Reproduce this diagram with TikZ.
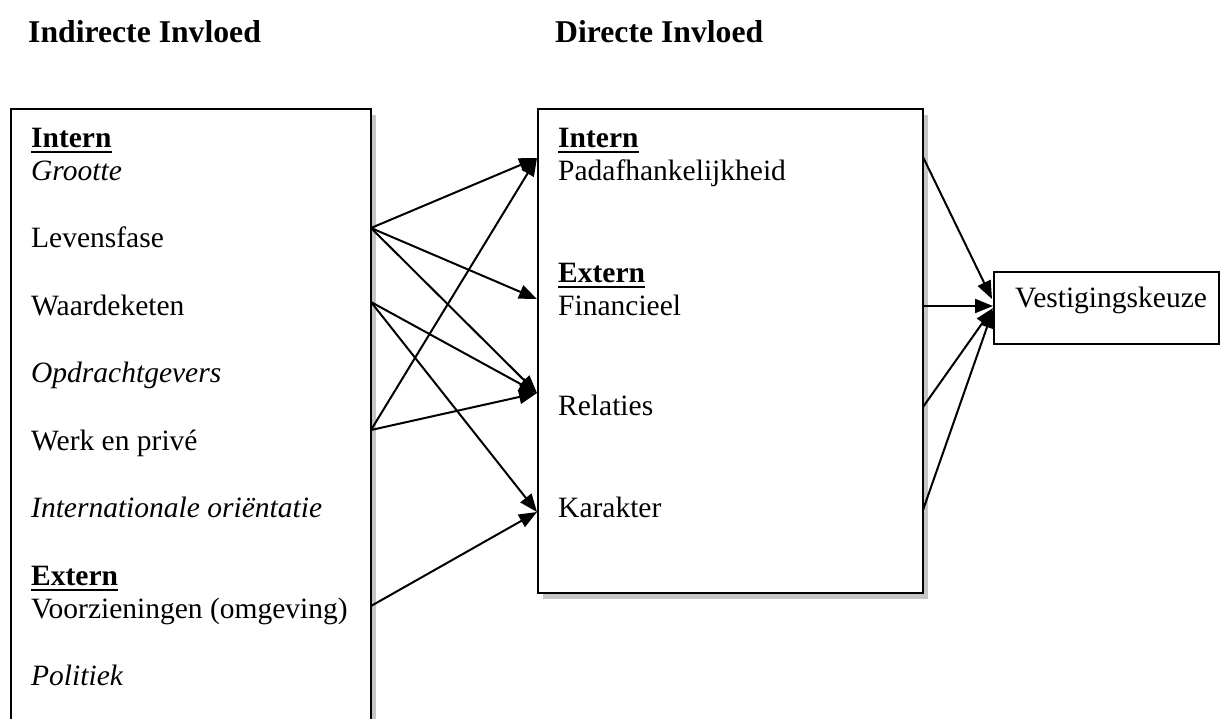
\documentclass[tikz,border=0pt]{standalone}
\usepackage{fontspec}
\setmainfont{Liberation Serif}
\usetikzlibrary{arrows.meta,shadows}
\begin{document}
\begin{tikzpicture}[x=1pt,y=-1pt,
  txt/.style={anchor=base west, inner sep=0pt, font=\fontsize{29.5}{33.6}\selectfont},
  head/.style={anchor=base west, inner sep=0pt, font=\fontsize{31.7}{36}\selectfont\bfseries},
  box/.style={draw, line width=2.3pt, fill=white, anchor=north west, inner sep=0pt},
  shbox/.style={box, drop shadow={shadow xshift=5pt, shadow yshift=-6pt, fill=gray!45, opacity=1}},
  conn/.style={line width=2pt, -{Triangle[length=18pt,width=14pt]}},
  ul/.style={line width=2.8pt}
]
\useasboundingbox (0,0) rectangle (1220,718);
\clip (0,0) rectangle (1220,718);
\fill[white] (0,0) rectangle (1220,718);

% headings
\node[head] (h1) at (28,42) {Indirecte Invloed};
\node[head] (h2) at (555,42) {Directe Invloed};

% boxes
\node[shbox, minimum width=360pt, minimum height=640pt] (L) at (10,108) {};
\node[shbox, minimum width=385pt, minimum height=484pt] (M) at (537,108) {};
\node[box, minimum width=225pt, minimum height=72pt] (R) at (993,271) {};

% left texts
\node[txt] (lint) at (31,147) {\bfseries Intern};
\draw[ul] ([yshift=-5pt]lint.base west) -- ([yshift=-5pt]lint.base east);
\node[txt] (lgro) at (31,180) {\itshape Grootte};
\node[txt] (llev) at (31,247) {Levensfase};
\node[txt] (lwaa) at (31,315) {Waardeketen};
\node[txt] (lopd) at (31,382) {\itshape Opdrachtgevers};
\node[txt] (lwer) at (31,450) {Werk en privé};
\node[txt] (lint2) at (31,517) {\itshape Internationale oriëntatie};
\node[txt] (lext) at (31,585) {\bfseries Extern};
\draw[ul] ([yshift=-5pt]lext.base west) -- ([yshift=-5pt]lext.base east);
\node[txt] (lvoo) at (31,618) {Voorzieningen (omgeving)};
\node[txt] (lpol) at (31,685) {\itshape Politiek};

% middle texts
\node[txt] (mint) at (558,147) {\bfseries Intern};
\draw[ul] ([yshift=-5pt]mint.base west) -- ([yshift=-5pt]mint.base east);
\node[txt] (mpad) at (558,180) {Padafhankelijkheid};
\node[txt] (mext) at (558,282) {\bfseries Extern};
\draw[ul] ([yshift=-5pt]mext.base west) -- ([yshift=-5pt]mext.base east);
\node[txt] (mfin) at (558,315) {Financieel};
\node[txt] (mrel) at (558,415) {Relaties};
\node[txt] (mkar) at (558,517) {Karakter};

% right text
\node[txt] (rves) at (1015,307) {Vestigingskeuze};

% connector ends
\coordinate (a1) at (371,228);
\coordinate (a2) at (371,302);
\coordinate (a3) at (371,430);
\coordinate (a4) at (371,606);
\coordinate (b1) at (537,158);
\coordinate (b2) at (537,299);
\coordinate (b3) at (537,393);
\coordinate (b4) at (537,512);
\coordinate (c1) at (923,157);
\coordinate (c2) at (923,306);
\coordinate (c3) at (923,407);
\coordinate (c4) at (923,510);
\coordinate (d1) at (992,299);
\coordinate (d2) at (993,306);
\coordinate (d3) at (993,308);
\coordinate (d4) at (993,310);

% connectors
\draw[conn] (a1) -- (b1);
\draw[conn] (a1) -- (b2);
\draw[conn] (a1) -- (b3);
\draw[conn] (a2) -- (b3);
\draw[conn] (a2) -- (b4);
\draw[conn] (a3) -- (b1);
\draw[conn] (a3) -- (b3);
\draw[conn] (a4) -- (b4);
\draw[conn] (c1) -- (d1);
\draw[conn] (c2) -- (d2);
\draw[conn] (c3) -- (d3);
\draw[conn] (c4) -- (d4);
\end{tikzpicture}
\end{document}
